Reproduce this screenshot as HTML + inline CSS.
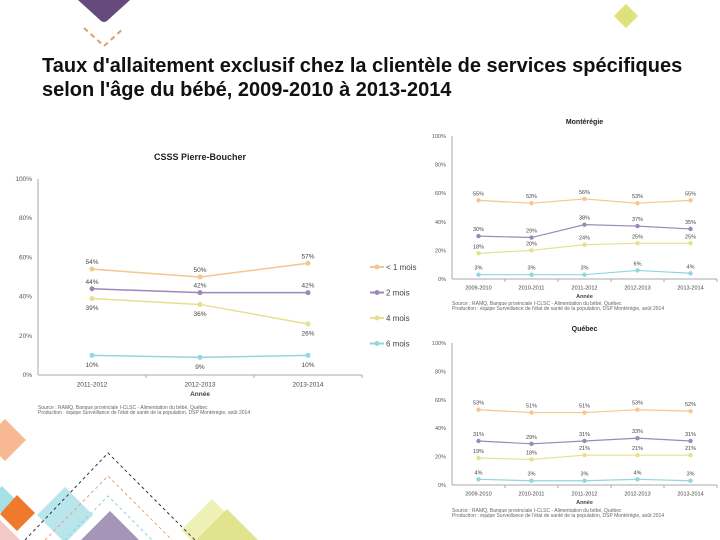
<!DOCTYPE html>
<html><head><meta charset="utf-8"><style>
html,body{margin:0;width:720px;height:540px;overflow:hidden;background:#fff;font-family:"Liberation Sans",sans-serif;position:relative}
#title{position:absolute;left:42px;top:54px;font-size:20px;font-weight:bold;line-height:24px;color:#111;margin:0;white-space:nowrap}
svg{position:absolute;left:0;top:0;overflow:hidden}
</style></head><body>
<svg width="720" height="540">
<path d="M78,0 L130,0 L108,20 Q104,24 100,20 Z" fill="#664a7e"/>
<path d="M84,28 L104,46 L124,28" fill="none" stroke="#d9a06a" stroke-width="2" stroke-dasharray="5,4"/>
<polygon points="626,4 638,16 626,28 614,16" fill="#dde27a"/>
<polygon points="0,424 5,419 26,440 5,461 0,456" fill="#f8b892"/>
<polygon points="0,488 2,486 16,500 2,514 0,512" fill="#a6dfe6"/>
<polygon points="17,495 35,513 17,531 0,514" fill="#ef7a2c"/>
<polygon points="0,520 20,540 0,540" fill="#f3c9c6"/>
<polygon points="65,487 93,515 68,540 62,540 37,515" fill="#b9e6ec"/>
<polygon points="110,511 139,540 81,540" fill="#a596b8"/>
<polygon points="212,499 243,530 233,540 191,540 181,530" fill="#eef0b8"/>
<polygon points="227,509 258,540 196,540" fill="#e1e48f"/>
<path d="M25,540 L108,453 L195,540" fill="none" stroke="#333" stroke-width="1" stroke-dasharray="3,3"/>
<path d="M45,540 L108,476 L172,540" fill="none" stroke="#e4a27a" stroke-width="1" stroke-dasharray="3,3"/>
<path d="M65,540 L108,496 L152,540" fill="none" stroke="#8fd0da" stroke-width="1" stroke-dasharray="3,3"/>
</svg>
<h1 id="title">Taux d'allaitement exclusif chez la clientèle de services spécifiques<br>selon l'âge du bébé, 2009-2010 à 2013-2014</h1>
<svg id="charts" width="720" height="540"></svg>
<script>
const pbCats=["2011-2012","2012-2013","2013-2014"];
const pb1=[54,50,57];
const pb2=[44,42,42];
const pb4=[39,36,26];
const pb6=[10,9,10];
const mCats=["2009-2010","2010-2011","2011-2012","2012-2013","2013-2014"];
const m1=[55,53,56,53,55];
const m2=[30,29,38,37,35];
const m4=[18,20,24,25,25];
const m6=[3,3,3,6,4];
const qCats=["2009-2010","2010-2011","2011-2012","2012-2013","2013-2014"];
const q1=[53,51,51,53,52];
const q2=[31,29,31,33,31];
const q4=[19,18,21,21,21];
const q6=[4,3,3,4,3];
const yTicks=[0,20,40,60,80,100];
const seriesNames=["< 1 mois","2 mois","4 mois","6 mois"];
const colors=["#f3c78e","#9d89b6","#e5e08e","#92d6df"];
const NS="http://www.w3.org/2000/svg";
const root=document.getElementById('charts');
function mk(tag,attrs,parent,text){const e=document.createElementNS(NS,tag);for(const k in attrs)e.setAttribute(k,attrs[k]);if(text!==undefined)e.textContent=text;(parent||root).appendChild(e);return e;}
function chart(o){
  const g=mk('g',{});
  
  
  const y=v=>o.y0-(o.y0-o.y100)*v/100;
  const step=(o.x1-o.x0)/o.cats.length;
  const x=i=>o.x0+step*(i+0.5);
  const t=mk('text',{x:(o.x0+o.x1)/2,y:o.titleY,'text-anchor':'middle','font-size':o.tfs,'font-weight':'bold',fill:'#222'},g,o.title);
  
  
  mk('line',{x1:o.x0,y1:o.y100,x2:o.x0,y2:o.y0,stroke:'#aaa','stroke-width':1},g);
  mk('line',{x1:o.x0,y1:o.y0,x2:o.x1,y2:o.y0,stroke:'#aaa','stroke-width':1},g);
  yTicks.forEach(v=>{
    const l=mk('text',{x:o.x0-6,y:y(v)+2,'text-anchor':'end','font-size':o.fs,fill:'#555'},g,v+'%');
    
    
  });
  o.cats.forEach((c,i)=>{
    mk('line',{x1:o.x0+step*(i+1),y1:o.y0,x2:o.x0+step*(i+1),y2:o.y0+3,stroke:'#aaa'},g);
    const l=mk('text',{x:x(i),y:o.y0+o.fs+5,'text-anchor':'middle','font-size':o.fs,fill:'#444'},g,c);
    
    
  });
  const at=mk('text',{x:(o.x0+o.x1)/2,y:o.y0+2*o.fs+8,'text-anchor':'middle','font-size':o.fs,'font-weight':'bold',fill:'#444'},g,'Année');
  
  
  o.series.forEach((s,k)=>{
    const pts=s.map((v,i)=>x(i)+','+y(v)).join(' ');
    const pl=mk('polyline',{points:pts,fill:'none',stroke:colors[k],'stroke-width':o.sw},g);
    
    
    s.forEach((v,i)=>{
      const m=mk('circle',{cx:x(i),cy:y(v),r:o.sw+1,fill:colors[k]},g);
      
      
      const below=(k===2||k===3)&&o.below;
      const lb=mk('text',{x:x(i),y:below?y(v)+o.fs+5:y(v)-5,'text-anchor':'middle','font-size':o.fs,fill:'#444'},g,v+'%');
      
      
    });
  });
  if(o.legend){
    seriesNames.forEach((n,k)=>{
      const ly=o.legend.y+k*25.5;
      mk('line',{x1:o.legend.x,y1:ly,x2:o.legend.x+14,y2:ly,stroke:colors[k],'stroke-width':2},g);
      mk('circle',{cx:o.legend.x+7,cy:ly,r:2.5,fill:colors[k]},g);
      const lt=mk('text',{x:o.legend.x+16,y:ly+3,'font-size':8,fill:'#444'},g,n);
      
      
    });
  }
  const s1=mk('text',{x:o.srcX,y:o.srcY,'font-size':5,fill:'#666'},g,'Source : RAMQ, Banque provinciale I-CLSC - Alimentation du bébé, Québec');
  
  
  mk('text',{x:o.srcX,y:o.srcY+5,'font-size':5,fill:'#666'},g,'Production : équipe Surveillance de l\'état de santé de la population, DSP Montérégie, août 2014');
}
chart({name:'chart-pierre-boucher',title:'CSSS Pierre-Boucher',titleY:160,tfs:9,cats:pbCats,series:[pb1,pb2,pb4,pb6],x0:38,x1:362,y0:375,y100:179,fs:6.5,sw:1.5,below:true,legend:{x:370,y:267},srcX:38,srcY:409});
chart({name:'chart-monteregie',title:'Montérégie',titleY:124,tfs:7,cats:mCats,series:[m1,m2,m4,m6],x0:452,x1:717,y0:279,y100:136,fs:5.5,sw:1.2,below:false,srcX:452,srcY:305});
chart({name:'chart-quebec',title:'Québec',titleY:331,tfs:7,cats:qCats,series:[q1,q2,q4,q6],x0:452,x1:717,y0:485,y100:343,fs:5.5,sw:1.2,below:false,srcX:452,srcY:512});
</script>
</body></html>
